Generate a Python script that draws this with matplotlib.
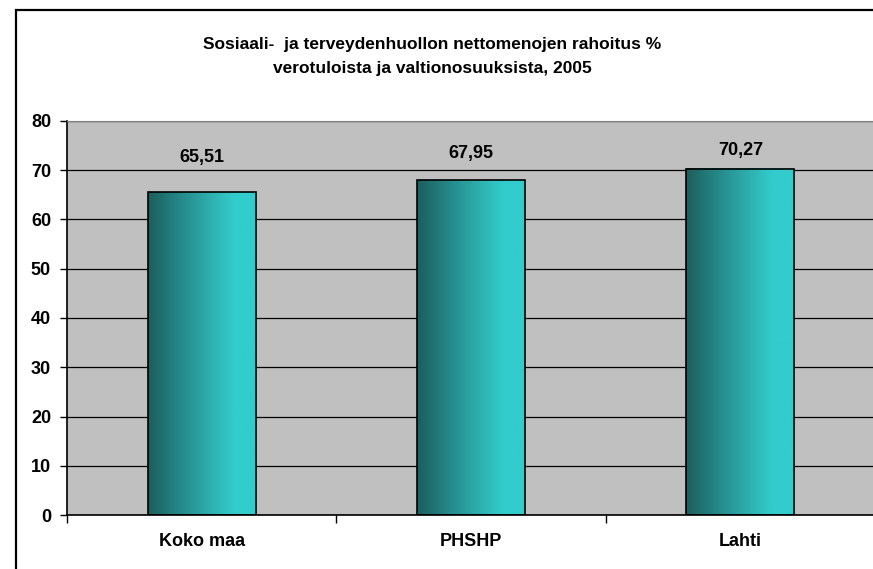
import numpy as np
import matplotlib
matplotlib.use('Agg')
import matplotlib.pyplot as plt
from matplotlib.colors import LinearSegmentedColormap
from matplotlib.patches import Rectangle

categories = ['Koko maa', 'PHSHP', 'Lahti']
values = [65.51, 67.95, 70.27]
value_labels = ['65,51', '67,95', '70,27']
title = 'Sosiaali-  ja terveydenhuollon nettomenojen rahoitus %\nverotuloista ja valtionosuuksista, 2005'

plt.rcParams['font.family'] = ['Liberation Sans', 'DejaVu Sans']

fig = plt.figure(figsize=(8.73, 5.69), dpi=100)
ax = fig.add_axes([67/873, 54/569, 808/873, 394/569])
ax.set_facecolor('#c0c0c0')

# frame around the whole chart (runs off the right and bottom edge)
fig.patches.append(Rectangle((16/873, -0.2), 2, (559/569) + 0.2, transform=fig.transFigure,
                             fill=False, edgecolor='black', linewidth=1.6, zorder=10))

x = np.arange(len(categories))
bars = ax.bar(x, values, width=0.4, facecolor='none', edgecolor='black', linewidth=1.2, zorder=3)

cmap = LinearSegmentedColormap.from_list('teal', [(0, '#1c5e5e'), (0.45, '#2a9e9e'), (0.8, '#33cccc'), (1, '#33cccc')])
grad = np.linspace(0, 1, 256).reshape(1, -1)
for b in bars:
    ax.imshow(grad, cmap=cmap, aspect='auto', zorder=2,
              extent=(b.get_x(), b.get_x() + b.get_width(), 0, b.get_height()))

# labels sit in the upper band, drifting up a little with the bar
for xi, v, lab in zip(x, values, value_labels):
    ax.text(xi, 53.6 + 0.29 * v, lab, ha='center', va='center', fontsize=13, fontweight='bold')

ax.set_xlim(-0.5, 2.5)
ax.set_ylim(0, 80)
ax.set_yticks(range(0, 81, 10))
ax.set_yticklabels([str(t) for t in range(0, 81, 10)], fontsize=13, fontweight='bold')
ax.yaxis.grid(True, color='black', linewidth=0.9, zorder=1)
ax.set_axisbelow(True)

ax.set_xticks([-0.5, 0.5, 1.5, 2.5])
ax.set_xticklabels([])
ax.set_xticks(x, minor=True)
ax.set_xticklabels(categories, minor=True, fontsize=13, fontweight='bold')
ax.tick_params(axis='x', which='minor', length=0, pad=13)
ax.tick_params(axis='x', which='major', length=6, width=1, direction='out')
ax.tick_params(axis='y', length=5, width=1, direction='out', pad=6.5)

ax.spines['top'].set_color('#808080')
ax.spines['right'].set_visible(False)
ax.spines['left'].set_linewidth(1.2)
ax.spines['bottom'].set_linewidth(1.2)

fig.text(432/873, 1 - 56.5/569, title, ha='center', va='center', fontsize=12.5,
         fontweight='bold', linespacing=1.8)

fig.savefig('out.png', dpi=100)
